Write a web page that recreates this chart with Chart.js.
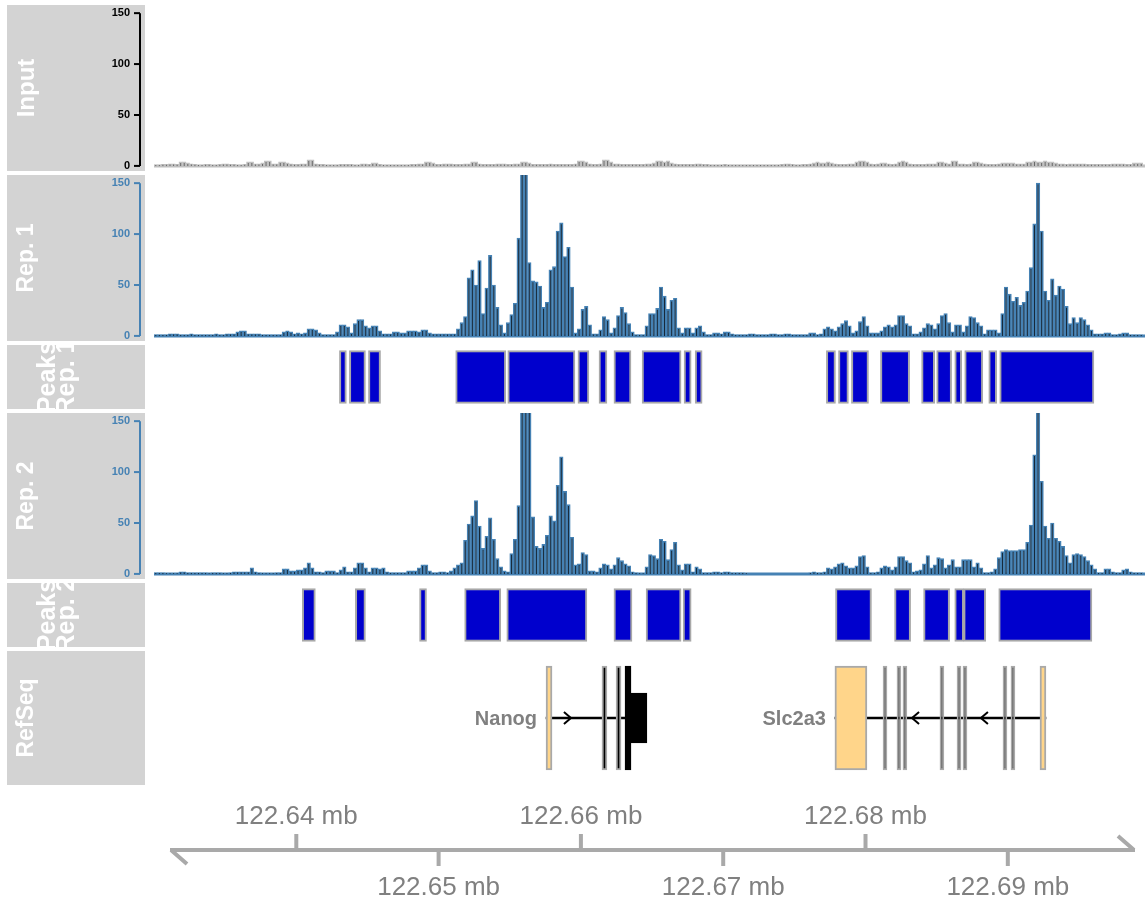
<!DOCTYPE html>
<html>
<head>
<meta charset="utf-8">
<script src="https://cdn.jsdelivr.net/npm/chart.js@4.4.0/dist/chart.umd.min.js"></script>
<style>
  html, body { margin: 0; padding: 0; background: #fff; overflow: hidden; }
  #wrap { position: relative; width: 1145px; height: 903px; }
  #wrap canvas { position: absolute; left: 0; }
</style>
</head>
<body>
<div id="wrap"></div>
<script>
// genomic window shown (bp) and histogram bin size
const winStart = 122630000;
const winEnd = 122699500;
const binSize = 250;

// coverage per 250 bp bin
const inputVals = [
  1,1,1.5,1.5,2,2,1.5,4,4,3, 2,1.5,1,1,1.5,1.5,1,1,1.5,2,
  2,1.5,1.5,1,1,1.5,4,4,2,2, 3,5,5,2,2,4,4,3,2,1.5,
  1.5,2,2,6,6,2,1.5,1.5,1,1, 1,1,1.5,1.5,1.5,1.5,1,1,2,2,
  1.5,3,3,1.5,1,1,1,1,1,1, 1,1,1.5,1.5,2,2,4,4,3,1.5,
  1.5,2,2,2,1.5,1.5,1.5,2,2,4, 4,2,1.5,1.5,1.5,1.5,2,2,2,1.5,
  1.5,2,2,4,4,3,1.5,1.5,1.5,1.5, 1.5,2,1.5,1.5,1.5,1.5,1.5,1.5,2,5,
  5,4,2,1.5,1.5,2,6,6,4,2, 2,1.5,1.5,1.5,1.5,1.5,1.5,1.5,2,2,
  3,5,5,4,5,3,2,1.5,1.5,1.5, 1.5,1.5,2,2,1.5,1.5,1,1,1,1,
  1.5,1,1,1,1,1,1,1,1,1, 1,1,1,1,1,1,1.5,2,2,1.5,
  1,1,1.5,1.5,2,3,4,3,3,4, 3,2,1.5,1.5,1.5,2,2,4,5,5,
  4,2,1.5,2,3,3,2,1.5,2,4, 5,4,2,1.5,1.5,1.5,1.5,2,2,2,
  4,4,3,2,5,5,2,2,1.5,2, 4,4,3,2,1.5,1.5,1.5,2,3,3,
  3,3,2,2,2,4,4,5,4,4, 5,4,4,3,2,2,1.5,2,2,2,
  2,2,1.5,1.5,1.5,1.5,1.5,1.5,1.5,2, 2,2,2,1.5,1.5,3,3,3
];
const rep1Vals = [
  1,1,1,1,2,2,2,1,1,1, 2,1,1,1,1,1,1,2,1,1,
  2,2,2,4,5,5,2,2,2,2, 1,1,1,1,1,1,4,5,4,2,
  3,2,3,7,7,6,3,1,1,1, 1,4,11,11,9,3,12,16,16,10,
  8,10,10,5,2,2,2,4,4,3, 3,5,5,5,4,6,6,3,2,2,
  2,2,2,2,2,7,13,19,57,65, 50,74,22,47,79,50,28,11,3,13,
  21,32,96,170,170,72,54,53,49,28, 33,65,68,103,111,78,87,48,3,7,
  26,29,11,2,2,6,19,16,3,8, 20,28,23,12,4,1,1,1,10,22,
  22,27,48,39,26,35,37,8,3,8, 8,3,8,10,4,1,1,3,3,2,
  4,4,2,1,1,1,1,2,2,1, 1,1,1,2,2,1,1,2,2,1,
  1,1,1,1,3,3,1,2,7,9, 7,5,9,12,15,10,3,5,14,19,
  10,3,3,3,5,9,11,9,11,20, 20,12,10,2,2,4,8,12,11,7,
  12,20,22,13,4,11,11,4,10,19, 18,13,10,2,6,6,6,3,22,48,
  41,34,38,30,33,44,67,110,150,103, 44,35,56,40,49,46,29,12,18,13,
  18,16,11,6,2,2,2,3,3,1, 1,2,3,3,1,1,1,1
];
const rep2Vals = [
  1,1,1,0.5,0.5,0.5,0.5,2,2,1, 1,1,1,1,1,0.5,1,1,1,0.5,
  0.5,1,2,2,2,2,2,6,2,1, 0.5,0.5,0.5,0.5,1,1,5,5,3,3,
  4,4,6,11,6,2,2,1,3,3, 3,1,4,7,2,2,6,11,11,6,
  2,6,6,5,6,2,1,1,1,1, 1,3,3,3,6,9,9,3,1,1,
  2,2,1,3,6,9,11,33,49,57, 72,47,25,37,55,34,15,7,3,2,
  20,34,67,170,170,170,56,27,25,29, 38,57,52,87,115,81,68,36,9,10,
  21,19,3,3,2,6,10,9,5,9, 16,13,10,8,2,1,0.5,0.5,7,19,
  18,15,34,32,14,24,31,9,4,10, 10,2,7,5,1,1,1,2,2,1,
  2,2,1,1,1,1,0.5,0,0,0, 0,0,0,0,0,0,0,0,0,0,
  0,0,0,0,1,2,1,1,2,6, 5,7,10,11,8,6,6,8,17,18,
  7,1,1,2,6,8,7,4,7,17, 17,13,11,2,3,4,10,18,6,9,
  16,15,6,9,14,7,7,14,14,14, 7,11,6,1,1,2,5,16,22,24,
  23,23,23,24,24,31,48,117,170,91, 47,35,50,35,32,27,18,11,19,20,
  19,17,13,9,5,1,1,5,5,2, 1,1,4,5,2,1,1,1
];
const yTicks = [0, 50, 100, 150];

// called peaks (bp)
const peak1Start = [122643030,122643730,122645070,122651200,122654860,122659790,122661270,122662320,122664300,122667250,122668030,
                    122677250,122678100,122679010,122681050,122683940,122685000,122686270,122686970,122688660,122689430];
const peak1End   = [122643520,122644860,122645920,122654720,122659580,122660560,122661830,122663520,122667040,122667750,122668520,
                    122677890,122678800,122680210,122683100,122684860,122686050,122686760,122688240,122689220,122696050];
const peak2Start = [122640420,122644150,122648660,122651830,122654790,122662320,122664580,122667180,
                    122677890,122682040,122684080,122686270,122686900,122689360];
const peak2End   = [122641340,122644860,122649150,122654370,122660420,122663590,122667040,122667750,
                    122680420,122683170,122685910,122686900,122688450,122695910];

// RefSeq gene models (bp)
const utrStart  = [122657550, 122677850, 122692260];
const utrEnd    = [122657970, 122680100, 122692680];
const exonStart = [122661480, 122662470, 122681230, 122682210, 122682630, 122685230, 122686430, 122686850, 122689660, 122690220];
const exonEnd   = [122661830, 122662820, 122681510, 122682490, 122682910, 122685510, 122686710, 122687130, 122689940, 122690500];
const cdsStart  = [122663100];
const cdsEnd    = [122663520];
const boxStart  = [122663520];
const boxEnd    = [122664640];
const geneNames  = ['Nanog', 'Slc2a3'];
const geneStart  = [122657550, 122677850];
const geneEnd    = [122663100, 122692680];
const arrowPos   = [122659300, 122683270, 122688110];
const arrowDir   = [1, -1, -1];

// genome axis
const axisUpper = [122640000, 122660000, 122680000];
const axisLower = [122650000, 122670000, 122690000];
</script>
<script>
const binLabels = rep1Vals.map((v, i) => winStart + i * binSize);
const FONT = '"Liberation Sans", Arial, Helvetica, sans-serif';
const wrap = document.getElementById('wrap');

function makeCanvas(top, height) {
  const c = document.createElement('canvas');
  c.width = 1145;
  c.height = height;
  c.style.top = top + 'px';
  wrap.appendChild(c);
  return c;
}

// grey title panel, optional data axis, baseline
const trackPlugin = {
  id: 'track',
  beforeDraw(chart, args, opts) {
    if (!opts.title) return;
    const ctx = chart.ctx, h = chart.height;
    ctx.save();
    ctx.fillStyle = '#d3d3d3';
    ctx.fillRect(7, 0, 138, h);
    ctx.beginPath();
    ctx.rect(7, 0, 138, h);
    ctx.clip();
    ctx.fillStyle = '#ffffff';
    ctx.font = 'bold ' + opts.size + 'px ' + FONT;
    ctx.textAlign = 'center';
    ctx.textBaseline = 'middle';
    opts.title.forEach((line, k) => {
      ctx.save();
      ctx.translate(opts.tx[k], h / 2);
      ctx.rotate(-Math.PI / 2);
      ctx.fillText(line, 0, 0);
      ctx.restore();
    });
    ctx.restore();
  },
  beforeDatasetsDraw(chart, args, opts) {
    if (!opts.baseline) return;
    const ctx = chart.ctx, y = chart.scales.y, a = chart.chartArea;
    ctx.save();
    ctx.strokeStyle = opts.baseline;
    ctx.lineWidth = 3;
    ctx.beginPath();
    ctx.moveTo(a.left, y.getPixelForValue(0));
    ctx.lineTo(a.right + 2, y.getPixelForValue(0));
    ctx.stroke();
    ctx.restore();
  },
  afterDraw(chart, args, opts) {
    if (!opts.axisColor) return;
    const ctx = chart.ctx, y = chart.scales.y;
    const x0 = 140;
    ctx.save();
    ctx.strokeStyle = opts.axisColor;
    ctx.fillStyle = opts.axisColor;
    ctx.lineWidth = 2;
    ctx.beginPath();
    ctx.moveTo(x0, y.getPixelForValue(yTicks[0]));
    ctx.lineTo(x0, y.getPixelForValue(yTicks[yTicks.length - 1]));
    ctx.stroke();
    ctx.font = 'bold 11px ' + FONT;
    ctx.textAlign = 'right';
    ctx.textBaseline = 'middle';
    yTicks.forEach(t => {
      const py = y.getPixelForValue(t);
      ctx.beginPath();
      ctx.moveTo(x0 - 6, py);
      ctx.lineTo(x0, py);
      ctx.stroke();
      ctx.fillText(String(t), x0 - 10, py);
    });
    ctx.restore();
  }
};

function baseOptions(extra) {
  return Object.assign({
    responsive: false,
    animation: false,
    events: [],
    layout: { padding: { left: 154, right: 2, top: 0, bottom: 0 } },
  }, extra);
}

function histTrack(top, height, values, edge, fill, bw, titleOpts) {
  return new Chart(makeCanvas(top, height), {
    type: 'bar',
    data: {
      labels: binLabels,
      datasets: [{
        data: values,
        backgroundColor: fill,
        borderColor: edge,
        borderWidth: bw,
        borderSkipped: 'start',
        barPercentage: 1,
        categoryPercentage: 1
      }]
    },
    options: baseOptions({
      plugins: { legend: { display: false }, tooltip: { enabled: false }, track: titleOpts },
      scales: {
        x: { display: false },
        y: { display: false, min: -5, max: 158 }
      }
    }),
    plugins: [trackPlugin]
  });
}

function peakTrack(top, height, starts, ends, titleOpts) {
  return new Chart(makeCanvas(top, height), {
    type: 'bar',
    data: {
      labels: ['peaks'],
      datasets: [{
        data: starts.map((s, i) => ({ x: [s, ends[i]], y: 'peaks' })),
        backgroundColor: '#0000cd',
        borderColor: '#a8a8a8',
        borderWidth: 2,
        borderSkipped: false,
        barThickness: 53
      }]
    },
    options: baseOptions({
      indexAxis: 'y',
      plugins: { legend: { display: false }, tooltip: { enabled: false }, track: titleOpts },
      scales: {
        x: { type: 'linear', display: false, min: winStart, max: winEnd },
        y: { display: false }
      }
    }),
    plugins: [trackPlugin]
  });
}

histTrack(5, 166, inputVals, '#c0c0c0', '#6a6a6a', 1.6,
  { title: ['Input'], tx: [27], size: 24, axisColor: '#000000', baseline: '#c0c0c0' });
histTrack(175, 166, rep1Vals, '#4682b4', '#16293a', 1.6,
  { title: ['Rep. 1'], tx: [27], size: 23, axisColor: '#4682b4', baseline: '#4682b4' });
peakTrack(345, 64, peak1Start, peak1End,
  { title: ['Peaks', 'Rep. 1'], tx: [48, 67], size: 25 });
histTrack(413, 166, rep2Vals, '#4682b4', '#16293a', 1.6,
  { title: ['Rep. 2'], tx: [27], size: 23, axisColor: '#4682b4', baseline: '#4682b4' });
peakTrack(583, 64, peak2Start, peak2End,
  { title: ['Peaks', 'Rep. 2'], tx: [48, 67], size: 25 });

// gene models: labels, strand chevrons
const genePlugin = {
  id: 'genes',
  afterDatasetsDraw(chart) {
    const ctx = chart.ctx, x = chart.scales.x, a = chart.chartArea;
    const cy = (a.top + a.bottom) / 2;
    ctx.save();
    ctx.strokeStyle = '#000';
    ctx.lineWidth = 2;
    arrowPos.forEach((p, i) => {
      const px = x.getPixelForValue(p), d = arrowDir[i];
      ctx.beginPath();
      ctx.moveTo(px - 7 * d, cy - 6);
      ctx.lineTo(px, cy);
      ctx.lineTo(px - 7 * d, cy + 6);
      ctx.stroke();
    });
    ctx.fillStyle = '#808080';
    ctx.font = 'bold 20px ' + FONT;
    ctx.textAlign = 'right';
    ctx.textBaseline = 'middle';
    geneNames.forEach((g, i) => {
      ctx.fillText(g, x.getPixelForValue(geneStart[i]) - 9, cy + 1);
    });
    ctx.restore();
  }
};

const row = 'gene';
new Chart(makeCanvas(651, 134), {
  type: 'bar',
  data: {
    labels: [row],
    datasets: [
      { data: utrStart.map((s, i) => ({ x: [s, utrEnd[i]], y: row })),
        backgroundColor: '#ffd58a', borderColor: '#a9a9a9', borderWidth: 2, borderSkipped: false, barThickness: 104 },
      { data: exonStart.map((s, i) => ({ x: [s, exonEnd[i]], y: row })),
        backgroundColor: '#000000', borderColor: '#a9a9a9', borderWidth: 2, borderSkipped: false, barThickness: 104 },
      { data: cdsStart.map((s, i) => ({ x: [s, cdsEnd[i]], y: row })),
        backgroundColor: '#000000', borderColor: '#000000', borderWidth: 1, borderSkipped: false, barThickness: 104 },
      { data: boxStart.map((s, i) => ({ x: [s, boxEnd[i]], y: row })),
        backgroundColor: '#000000', borderColor: '#000000', borderWidth: 1, borderSkipped: false, barThickness: 50 },
      { data: geneStart.map((s, i) => ({ x: [s, geneEnd[i]], y: row })),
        backgroundColor: '#000000', borderWidth: 0, barThickness: 2 }
    ]
  },
  options: baseOptions({
    indexAxis: 'y',
    datasets: { bar: { grouped: false } },
    plugins: { legend: { display: false }, tooltip: { enabled: false },
      track: { title: ['RefSeq'], tx: [27], size: 23 } },
    scales: {
      x: { type: 'linear', display: false, min: winStart, max: winEnd },
      y: { display: false }
    }
  }),
  plugins: [trackPlugin, genePlugin]
});

// genome axis
const axisPlugin = {
  id: 'gaxis',
  afterDraw(chart) {
    const ctx = chart.ctx, x = chart.scales.x;
    const cy = 65, col = '#a9a9a9';
    ctx.save();
    ctx.strokeStyle = col;
    ctx.lineWidth = 4;
    ctx.lineCap = 'butt';
    ctx.beginPath();
    ctx.moveTo(170, cy); ctx.lineTo(1135, cy);
    ctx.moveTo(171, cy); ctx.lineTo(187, cy + 14);
    ctx.moveTo(1134, cy); ctx.lineTo(1118, cy - 14);
    ctx.stroke();
    ctx.fillStyle = '#808080';
    ctx.font = '26px ' + FONT;
    ctx.textAlign = 'center';
    ctx.textBaseline = 'middle';
    const fmt = v => (v / 1e6).toFixed(2) + ' mb';
    axisUpper.forEach(v => {
      const px = x.getPixelForValue(v);
      ctx.beginPath(); ctx.moveTo(px, cy); ctx.lineTo(px, cy - 16); ctx.stroke();
      ctx.fillText(fmt(v), px, cy - 33);
    });
    axisLower.forEach(v => {
      const px = x.getPixelForValue(v);
      ctx.beginPath(); ctx.moveTo(px, cy); ctx.lineTo(px, cy + 16); ctx.stroke();
      ctx.fillText(fmt(v), px, cy + 38);
    });
    ctx.restore();
  }
};

new Chart(makeCanvas(785, 118), {
  type: 'scatter',
  data: { datasets: [{ data: [] }] },
  options: baseOptions({
    plugins: { legend: { display: false }, tooltip: { enabled: false } },
    scales: {
      x: { type: 'linear', display: false, min: winStart, max: winEnd },
      y: { display: false }
    }
  }),
  plugins: [axisPlugin]
});
</script>
</body>
</html>
